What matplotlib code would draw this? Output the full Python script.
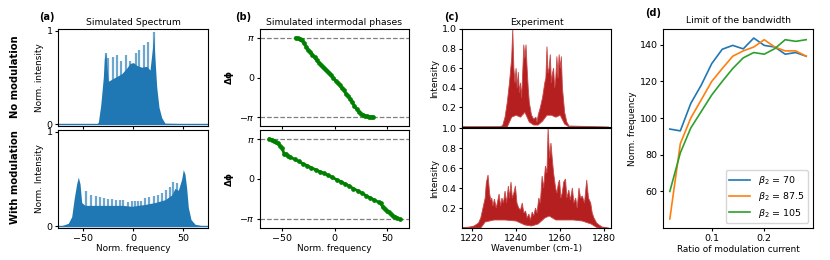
import numpy as np
import matplotlib
matplotlib.use("Agg")
import matplotlib.pyplot as plt

# (a) simulated spectrum, no modulation: envelope + mode spikes
a1_x = [-75, -40, -36, -34.7, -32.3, -29.7, -28.7, -27.3, -26, -24.7, -18, -11.3, -6.3, -3,
        0.3, 3.7, 8.7, 13.7, 17, 19.3, 20.7, 22, 23.7, 26, 28.7, 32, 75]
a1_y = [0, 0, 0.005, 0.02, 0.2, 0.5, 0.7, 0.76, 0.6, 0.46, 0.5, 0.54, 0.6, 0.65,
        0.66, 0.63, 0.61, 0.62, 0.58, 0.8, 0.95, 0.7, 0.4, 0.18, 0.07, 0.01, 0]
a1_sx = [-27.3, -25.3, -20.3, -15.7, -12, -7.3, -2.7, 3, 6, 10.7, 14.7, 20.7]
a1_sy = [0.76, 0.71, 0.72, 0.74, 0.68, 0.74, 0.68, 0.76, 0.80, 0.85, 0.88, 0.99]

# (a) with modulation
a2_x = [-75, -71.3, -64.7, -61.3, -58.7, -56.3, -54.7, -53, -51.3, -48, -30, -10, -1.3, 12,
        22, 32, 38.7, 42, 45.3, 48.7, 50.3, 52, 53.7, 55.3, 58, 62, 68.7, 75]
a2_y = [0, 0.005, 0.03, 0.1, 0.3, 0.45, 0.52, 0.45, 0.25, 0.22, 0.22, 0.22, 0.21, 0.23,
        0.25, 0.28, 0.33, 0.4, 0.38, 0.5, 0.6, 0.55, 0.4, 0.2, 0.07, 0.02, 0.005, 0]
a2_sx = [-47, -42, -37.3, -33.3, -29.3, -25.3, -21.3, -17, -13, -9.7, -5, -1, 2, 5, 8,
         12, 16.3, 20.7, 24.7, 28.7, 32.7, 37, 40.3, 43.7]
a2_sy = [0.37, 0.33, 0.32, 0.31, 0.30, 0.29, 0.29, 0.28, 0.28, 0.28, 0.26, 0.27, 0.27, 0.27, 0.27,
         0.30, 0.31, 0.32, 0.33, 0.35, 0.38, 0.41, 0.47, 0.46]

# (b) intermodal phases
b1_x = [-37, -35, -33, -31, -29, -27, -25, -23, -21, -19, -17, -15, -13, -11, -9, -7, -5, -3, -1,
        1, 3, 5, 7, 9, 11, 13, 15, 17, 19, 21, 23, 25, 27, 29, 31, 33, 35, 37]
b1_y = [3.14, 3.12, 3.08, 2.95, 2.7, 2.45, 2.15, 2.05, 1.8, 1.6, 1.35, 1.15, 1.0, 0.82, 0.65, 0.5,
        0.33, 0.17, -0.05, -0.25, -0.45, -0.62, -0.85, -1.0, -1.3, -1.5, -1.7, -1.95, -2.28, -2.5,
        -2.72, -2.88, -2.97, -3.03, -3.08, -3.11, -3.13, -3.14]
b2_x = [-62, -60, -58, -56, -54, -52, -50, -48, -46, -44, -42, -38, -34, -30, -26, -22, -18, -14,
        -10, -6, -2, 2, 6, 10, 14, 18, 22, 26, 30, 34, 38, 42, 44, 46, 48, 50, 52, 54, 56, 58, 60, 62]
b2_y = [3.14, 3.1, 3.02, 2.92, 2.8, 2.62, 2.4, 2.0, 1.95, 1.8, 1.72, 1.55, 1.38, 1.2, 1.05, 0.88,
        0.73, 0.58, 0.45, 0.3, 0.13, -0.05, -0.2, -0.38, -0.55, -0.75, -0.92, -1.1, -1.3, -1.48,
        -1.65, -1.82, -1.9, -2.2, -2.38, -2.5, -2.62, -2.78, -2.9, -3.0, -3.08, -3.14]

# (c) experiment, no modulation (upper and lower edges of the band)
c1_x = [1215, 1233, 1234, 1235, 1236, 1237, 1238, 1238.5, 1239, 1239.5, 1240, 1240.5, 1241,
        1241.5, 1242, 1242.5, 1243, 1243.5, 1244, 1244.5, 1245, 1245.5, 1246, 1247, 1248, 1249,
        1249.5, 1250, 1251, 1252, 1253, 1253.5, 1254, 1254.5, 1255, 1255.5, 1256, 1256.5, 1257,
        1257.5, 1258, 1258.5, 1259, 1259.5, 1260, 1260.5, 1261, 1262, 1263, 1264, 1282]
c1_y = [0, 0, 0.02, 0.1, 0.25, 0.45, 0.7, 1.0, 0.6, 0.45, 0.6, 0.4, 0.56, 0.35, 0.45, 0.3, 0.55,
        0.84, 0.7, 0.84, 0.6, 0.4, 0.25, 0.12, 0.08, 0.1, 0.05, 0.12, 0.2, 0.3, 0.45, 0.5, 0.82,
        0.55, 0.6, 0.74, 0.45, 0.55, 0.6, 0.4, 0.5, 0.72, 0.5, 0.74, 0.6, 0.72, 0.4, 0.15, 0.05,
        0.01, 0]
c1_lx = [1215, 1236, 1238, 1240, 1242, 1244, 1246, 1248, 1250, 1252, 1254, 1256, 1258, 1260,
         1262, 1264, 1282]
c1_ly = [0, 0, 0.1, 0.12, 0.1, 0.15, 0.05, 0.02, 0.02, 0.06, 0.12, 0.12, 0.1, 0.12, 0.03, 0, 0]

# (c) experiment, with modulation
c2_x = [1215, 1217, 1219, 1221, 1223, 1224, 1225, 1226, 1226.5, 1227.3, 1228, 1228.5, 1229,
        1229.5, 1230.2, 1231, 1231.5, 1232.3, 1233, 1233.6, 1234.3, 1235, 1235.7, 1236.5, 1237,
        1237.7, 1238.3, 1239, 1239.7, 1240.4, 1241.2, 1242, 1242.8, 1243.5, 1244.3, 1245, 1245.8,
        1246.5, 1247.3, 1248, 1248.8, 1249.5, 1250.3, 1251, 1251.8, 1252.5, 1253.3, 1254, 1254.5,
        1255.2, 1255.8, 1256.4, 1257, 1257.9, 1258.5, 1259.2, 1259.7, 1260.3, 1260.9, 1261.6,
        1262.4, 1263, 1263.9, 1264.6, 1265.5, 1266.2, 1267, 1267.7, 1268.5, 1269.2, 1270, 1271,
        1272, 1272.8, 1273.8, 1274.5, 1275.3, 1276.5, 1277.6, 1279, 1282]
c2_y = [0, 0.005, 0.01, 0.02, 0.05, 0.1, 0.2, 0.3, 0.45, 0.53, 0.35, 0.28, 0.3, 0.22, 0.29, 0.2,
        0.25, 0.34, 0.22, 0.3, 0.25, 0.37, 0.25, 0.42, 0.3, 0.46, 0.3, 0.35, 0.42, 0.25, 0.2, 0.18,
        0.25, 0.15, 0.17, 0.1, 0.14, 0.08, 0.16, 0.12, 0.2, 0.15, 0.3, 0.25, 0.52, 0.4, 0.62, 0.55,
        1.0, 0.7, 0.85, 0.69, 0.55, 0.4, 0.35, 0.45, 0.48, 0.3, 0.35, 0.46, 0.49, 0.3, 0.38, 0.28,
        0.4, 0.25, 0.3, 0.2, 0.4, 0.3, 0.32, 0.25, 0.48, 0.3, 0.25, 0.15, 0.1, 0.05, 0.03, 0.01, 0]
c2_lx = [1215, 1224, 1226, 1230, 1235, 1240, 1244, 1247, 1250, 1253, 1255, 1258, 1262, 1266,
         1270, 1274, 1277, 1282]
c2_ly = [0, 0, 0.06, 0.08, 0.08, 0.07, 0.03, 0.02, 0.04, 0.1, 0.12, 0.08, 0.08, 0.08, 0.07,
         0.04, 0, 0]

# (d) bandwidth limit
ratio = [0.02, 0.04, 0.06, 0.08, 0.10, 0.12, 0.14, 0.16, 0.18, 0.20, 0.22, 0.24, 0.26, 0.28]
bw_70 = [94, 93, 108, 118, 129.7, 137.5, 139.6, 137.7, 143.6, 139.6, 138.7, 134.8, 135.7, 133.7]
bw_875 = [45, 86, 100, 110, 120, 127, 133.7, 136.6, 138.7, 142.7, 138.7, 136.6, 136.6, 133.7]
bw_105 = [60, 81, 94.6, 103.6, 112.6, 120, 127, 132.8, 135.7, 134.8, 137.8, 142.7, 141.8, 142.7]
beta_labels = [r'$\beta_2$ = 70', r'$\beta_2$ = 87.5', r'$\beta_2$ = 105']

plt.rcParams['font.size'] = 6.4
plt.rcParams['xtick.labelsize'] = 6.8
plt.rcParams['ytick.labelsize'] = 6.8
plt.rcParams['axes.titlesize'] = 6.7
W, H = 830.0, 260.0
fig = plt.figure(figsize=(8.3, 2.6), dpi=100)

def rect(x0, x1, y0, y1):
    return [x0 / W, 1 - y1 / H, (x1 - x0) / W, (y1 - y0) / H]

ax_a1 = fig.add_axes(rect(58, 208, 29, 126))
ax_a2 = fig.add_axes(rect(58, 208, 130, 228))
ax_b1 = fig.add_axes(rect(260, 409, 29, 126))
ax_b2 = fig.add_axes(rect(260, 409, 130, 228))
ax_c1 = fig.add_axes(rect(462, 611, 29, 127))
ax_c2 = fig.add_axes(rect(462, 611, 128, 228))
ax_d = fig.add_axes(rect(663, 813, 29, 228))

# (a)
for ax, ex, ey, sx, sy in [(ax_a1, a1_x, a1_y, a1_sx, a1_sy), (ax_a2, a2_x, a2_y, a2_sx, a2_sy)]:
    ax.fill_between(ex, 0, ey, color='C0', lw=0)
    ax.vlines(sx, 0, sy, color='C0', alpha=0.65, lw=1.6)
    ax.plot([-75, 75], [0, 0], color='C0', lw=1)
    ax.set_xlim(-75, 75)
    ax.set_ylim(-0.02, 1.02)
    ax.set_yticks([0, 1])
    ax.set_xticks([-50, 0, 50])
ax_a1.tick_params(axis='x', labelbottom=False, length=0)
ax_a1.set_ylabel('Norm. intensity', labelpad=2)
ax_a2.set_ylabel('Norm. Intensity', labelpad=2)
ax_a2.set_xlabel('Norm. frequency', labelpad=1)
ax_a1.set_title('Simulated Spectrum', pad=3)

# (b)
for ax, px, py in [(ax_b1, b1_x, b1_y), (ax_b2, b2_x, b2_y)]:
    ax.axhline(np.pi, color='gray', ls='--', lw=0.9)
    ax.axhline(-np.pi, color='gray', ls='--', lw=0.9)
    ax.plot(px, py, 'o-', color='green', ms=2.4, lw=2)
    ax.set_xlim(-71, 71)
    ax.set_ylim(-3.85, 3.85)
    ax.set_yticks([-np.pi, 0, np.pi])
    ax.set_yticklabels([r'$-\pi$', '0', r'$\pi$'])
    ax.set_xticks([-50, 0, 50])
    ax.set_ylabel(r'$\mathbf{\Delta\phi}$', labelpad=2)
ax_b1.tick_params(axis='x', labelbottom=False, length=0)
ax_b2.set_xlabel('Norm. frequency', labelpad=1)
ax_b1.set_title('Simulated intermodal phases', pad=3)

# (c)
for ax, ux, uy, lx, ly in [(ax_c1, c1_x, c1_y, c1_lx, c1_ly), (ax_c2, c2_x, c2_y, c2_lx, c2_ly)]:
    ax.fill(list(ux) + list(lx[::-1]), list(uy) + list(ly[::-1]),
            facecolor='#b51f1f', edgecolor='#c84848', lw=0.6)
    ax.set_xlim(1215.5, 1283)
    ax.set_ylim(0, 1)
    ax.set_yticks([0.2, 0.4, 0.6, 0.8, 1.0])
    ax.set_xticks([1220, 1240, 1260, 1280])
    ax.set_ylabel('Intensity', labelpad=2)
ax_c1.tick_params(axis='x', labelbottom=False, length=0)
ax_c2.set_xlabel('Wavenumber (cm-1)', labelpad=1)
ax_c1.set_title('Experiment', pad=3)

# (d)
ax_d.plot(ratio, bw_70, color='C0', lw=1.2, label=beta_labels[0])
ax_d.plot(ratio, bw_875, color='C1', lw=1.2, label=beta_labels[1])
ax_d.plot(ratio, bw_105, color='C2', lw=1.2, label=beta_labels[2])
ax_d.set_xticks([0.1, 0.2])
ax_d.set_yticks([60, 80, 100, 120, 140])
ax_d.set_ylabel('Norm. frequency', labelpad=2)
ax_d.set_xlabel('Ratio of modulation current', labelpad=2)
ax_d.set_title('Limit of the bandwidth', pad=4)
ax_d.legend(loc='lower right', fontsize=6.8, handlelength=2.2, labelspacing=0.35)

for ax in [ax_a1, ax_a2, ax_b1, ax_b2, ax_c1, ax_c2, ax_d]:
    ax.tick_params(length=2.5, pad=1.5)

fig.text(15 / W, 1 - 77 / H, 'No modulation', rotation=90, ha='center', va='center',
         fontweight='bold', fontsize=7.2)
fig.text(15 / W, 1 - 177 / H, 'With modulation', rotation=90, ha='center', va='center',
         fontweight='bold', fontsize=7.2)
for lbl, x, y in [('(a)', 47, 17), ('(b)', 243, 17), ('(c)', 451, 17), ('(d)', 653, 13)]:
    fig.text(x / W, 1 - y / H, lbl, ha='center', va='center', fontweight='bold', fontsize=7)

fig.savefig('out.png', dpi=100)
